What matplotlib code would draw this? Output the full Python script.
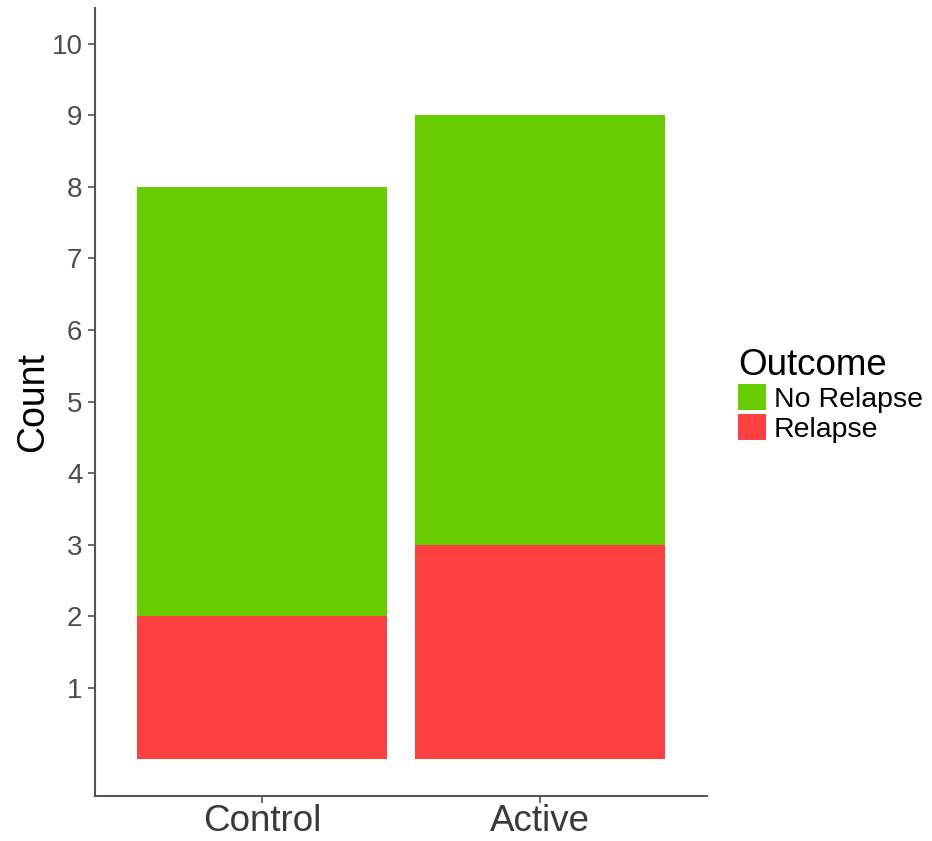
import matplotlib
matplotlib.use("Agg")
import matplotlib.pyplot as plt
import numpy as np

plt.rcParams['font.family'] = ['Liberation Sans', 'DejaVu Sans']

# Datos
groups = ["Control", "Active"]
relapse = [2, 3]
no_relapse = [6, 6]
y_ticks = [1, 2, 3, 4, 5, 6, 7, 8, 9, 10]

green = "#66CC00"
red = "#FF4040"
axis_grey = "#555555"

fig = plt.figure(figsize=(9.32, 8.41), dpi=100)
ax = fig.add_axes([95 / 932, 1 - 796 / 841, (707 - 95) / 932, (796 - 8) / 841])

x = np.arange(1, len(groups) + 1)
b_rel = ax.bar(x, relapse, width=0.9, color=red, label="Relapse")
b_no = ax.bar(x, no_relapse, width=0.9, bottom=relapse, color=green, label="No Relapse")

ax.set_xlim(0.4, 2.6)
ax.set_ylim(-0.51, 10.5)
ax.set_xticks(x)
ax.set_xticklabels(groups, fontsize=26.5, color="#3a3a3a")
ax.set_yticks(y_ticks)
ax.set_yticklabels([str(t) for t in y_ticks], fontsize=20, color="#4d4d4d")
ax.set_ylabel("Count", fontsize=27, labelpad=0)

for side in ["top", "right"]:
    ax.spines[side].set_visible(False)
for side in ["left", "bottom"]:
    ax.spines[side].set_color(axis_grey)
    ax.spines[side].set_linewidth(1.5)
ax.tick_params(axis="both", direction="out", length=5, width=1.2, color=axis_grey)
ax.tick_params(axis="y", pad=4)
ax.tick_params(axis="x", pad=1)

leg = fig.legend(handles=[b_no, b_rel], labels=["No Relapse", "Relapse"],
                 title="Outcome", loc="upper left",
                 bbox_to_anchor=(738 / 932, 1 - 348 / 841),
                 frameon=False, fontsize=20.5, title_fontsize=26.5,
                 handlelength=1.0, handleheight=1.0, handletextpad=0.25,
                 labelspacing=0.05, borderpad=0, borderaxespad=0)
leg._legend_box.align = "left"

fig.savefig("out.png", dpi=100)
